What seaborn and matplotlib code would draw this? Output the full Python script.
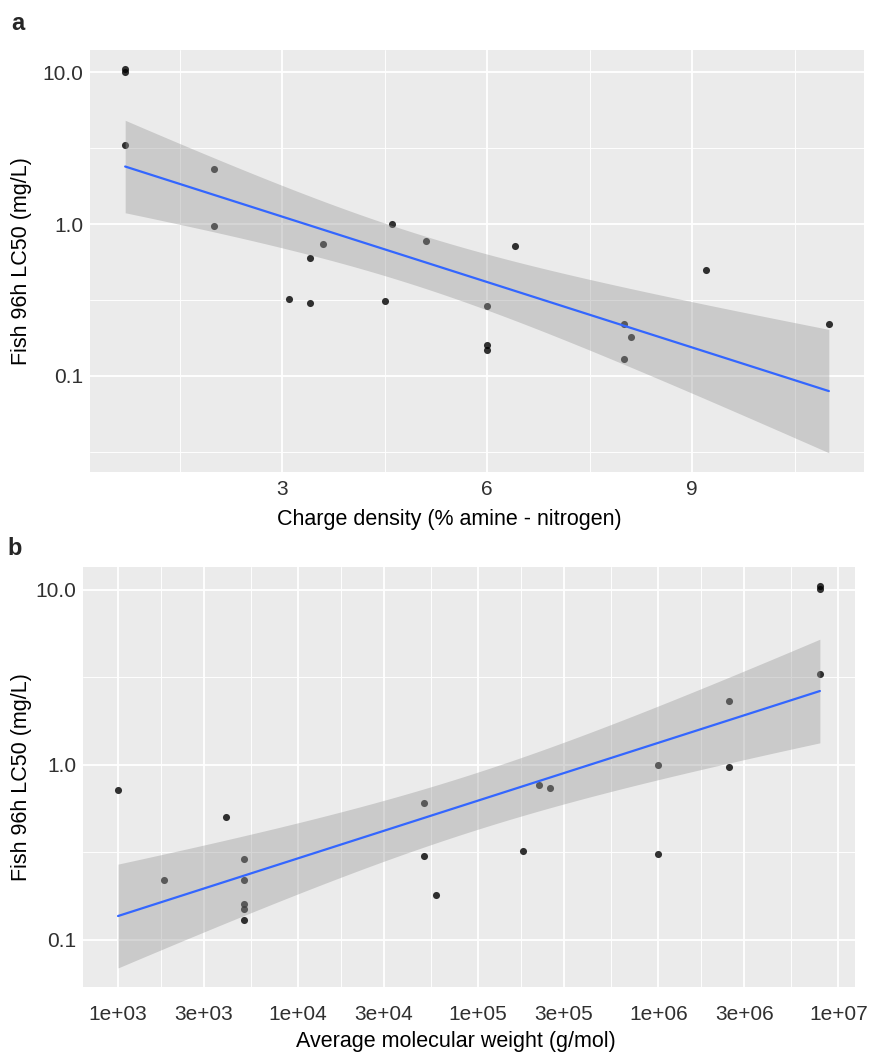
import numpy as np
import pandas as pd
import matplotlib
matplotlib.use("Agg")
import matplotlib.pyplot as plt
import seaborn as sns
from matplotlib.ticker import FixedLocator, FixedFormatter

# Data (one row per polymer)
charge_density = [0.7, 0.7, 0.7, 2.0, 2.0, 3.1, 3.4, 3.4, 3.6, 4.5, 4.6,
                  5.1, 6.0, 6.0, 6.0, 6.4, 8.0, 8.1, 8.0, 9.2, 11.0]
mol_weight = [7.9e6, 7.9e6, 7.9e6, 2.47e6, 2.47e6, 1.77e5, 5.0e4, 5.0e4, 2.5e5, 1.0e6, 1.0e6,
              2.19e5, 5.0e3, 5.0e3, 5.0e3, 1.0e3, 5.0e3, 5.8e4, 5.0e3, 4.0e3, 1.8e3]
lc50 = [10.5, 10.1, 3.3, 2.32, 0.97, 0.32, 0.60, 0.30, 0.74, 0.31, 1.0,
        0.77, 0.29, 0.16, 0.149, 0.72, 0.22, 0.18, 0.13, 0.50, 0.22]

y_breaks = [0.1, 1.0, 10.0]
y_labels = ["0.1", "1.0", "10.0"]
charge_breaks = [3, 6, 9]
charge_labels = ["3", "6", "9"]
mw_breaks = [1e3, 3e3, 1e4, 3e4, 1e5, 3e5, 1e6, 3e6, 1e7]
mw_labels = ["1e+03", "3e+03", "1e+04", "3e+04", "1e+05", "3e+05", "1e+06", "3e+06", "1e+07"]

T_CRIT = 2.093  # t quantile 0.975, df = 21 - 2

sns.set_style("darkgrid", {"axes.facecolor": "#EBEBEB", "grid.color": "white",
                           "axes.edgecolor": "#EBEBEB"})
plt.rcParams['font.family'] = ['Liberation Sans', 'DejaVu Sans']

df = pd.DataFrame({
    "charge": charge_density,
    "log_mw": np.log10(mol_weight),
    "log_lc50": np.log10(lc50),
})


def lm_band(x, y, grid):
    """OLS fit with 95% confidence band (like geom_smooth(method='lm'))"""
    X = np.column_stack([np.ones_like(x), x])
    beta = np.linalg.lstsq(X, y, rcond=None)[0]
    resid = y - X @ beta
    s2 = resid @ resid / (len(x) - 2)
    xtx_inv = np.linalg.inv(X.T @ X)
    G = np.column_stack([np.ones_like(grid), grid])
    fit = G @ beta
    se = np.sqrt(s2 * np.einsum('ij,jk,ik->i', G, xtx_inv, G))
    return fit - T_CRIT * se, fit + T_CRIT * se


def minor_between(breaks):
    b = np.asarray(breaks, float)
    ext = np.concatenate([[2 * b[0] - b[1]], b, [2 * b[-1] - b[-2]]])
    return (ext[:-1] + ext[1:]) / 2


def draw_panel(ax, xcol, xbreaks, xlabels, xlabel, xpad, xlabelpad):
    sns.regplot(data=df, x=xcol, y="log_lc50", ci=None, ax=ax, color="black",
                scatter_kws=dict(s=26, linewidths=0, zorder=2),
                line_kws=dict(color="#3366FF", lw=1.6, zorder=4))
    x = df[xcol].to_numpy()
    grid = np.linspace(x.min(), x.max(), 100)
    lo, hi = lm_band(x, df["log_lc50"].to_numpy(), grid)
    ax.fill_between(grid, lo, hi, color="#999999", alpha=0.4, lw=0, zorder=3)

    ax.xaxis.set_major_locator(FixedLocator(xbreaks))
    ax.xaxis.set_major_formatter(FixedFormatter(xlabels))
    ax.xaxis.set_minor_locator(FixedLocator(minor_between(xbreaks)))
    yb = np.log10(y_breaks)
    ax.yaxis.set_major_locator(FixedLocator(yb))
    ax.yaxis.set_major_formatter(FixedFormatter(y_labels))
    ax.yaxis.set_minor_locator(FixedLocator(minor_between(yb)))

    ax.grid(which="major", color="white", lw=1.3)
    ax.grid(which="minor", color="white", lw=0.65)
    ax.set_axisbelow(True)
    for s in ax.spines.values():
        s.set_visible(False)
    ax.tick_params(which="major", length=3, width=0.8, color="#333333",
                   labelcolor="#303030", labelsize=15)
    ax.tick_params(axis="y", which="major", pad=1.5)
    ax.tick_params(axis="x", which="major", pad=xpad)
    ax.tick_params(which="minor", length=0)
    ax.set_xlabel(xlabel, fontsize=15.5, color="black", labelpad=xlabelpad)
    ax.set_ylabel("Fish 96h LC50 (mg/L)", fontsize=15.5, color="black")


fig = plt.figure(figsize=(8.77, 10.57), dpi=100)
ax_a = fig.add_axes([0.1026, 0.5535, 0.8826, 0.3992])
ax_b = fig.add_axes([0.0946, 0.0662, 0.8803, 0.3974])

draw_panel(ax_a, "charge", charge_breaks, charge_labels,
           "Charge density (% amine - nitrogen)", xpad=3, xlabelpad=7)
draw_panel(ax_b, "log_mw", np.log10(mw_breaks), mw_labels,
           "Average molecular weight (g/mol)", xpad=10, xlabelpad=5)

# axis titles sit slightly left of the panel centre in the original
ax_a.xaxis.label.set_x(0.4645)
ax_b.xaxis.label.set_x(0.4825)
ax_a.yaxis.set_label_coords(-0.075, 0.5)
ax_b.yaxis.set_label_coords(-0.066, 0.5)

fig.text(0.013, 0.9716, "a", fontsize=17, fontweight="bold", va="baseline")
fig.text(0.008, 0.4749, "b", fontsize=17, fontweight="bold", va="baseline")

fig.savefig("out.png", dpi=100)
